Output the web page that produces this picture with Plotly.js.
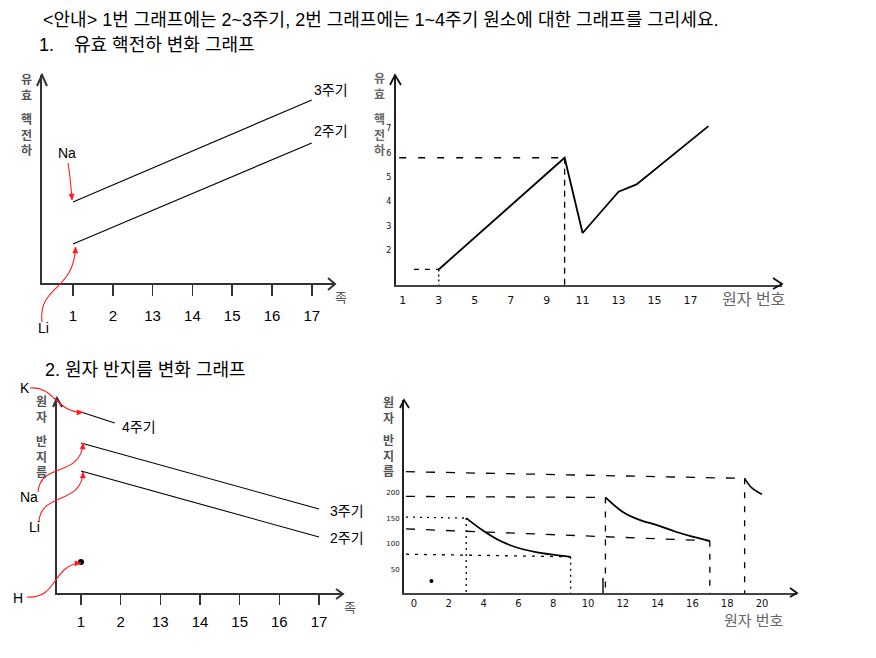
<!DOCTYPE html>
<html><head><meta charset="utf-8">
<script src="https://cdn.plot.ly/plotly-3.0.1.min.js"></script>
<style>html,body{margin:0;padding:0;background:#fff}#chart{width:876px;height:658px}</style>
</head><body><div id="chart"></div><script>
const W = 876, H = 658;

// ---------- Chart 1: 유효 핵전하 (schematic, by group) ----------
const groupLabels = ['1', '2', '13', '14', '15', '16', '17'];
const groupIdx = [0, 1, 2, 3, 4, 5, 6];
const schemX = [0, 6];
const zeffPeriod2 = [1.95, 7.0];
const zeffPeriod3 = [4.05, 9.15];

// ---------- Chart 2: 유효 핵전하 vs 원자 번호 (hand drawn) ----------
const zeffZ = [3, 10, 11, 13, 14, 18];
const zeffVal = [1.2, 5.8, 2.7, 4.4, 4.7, 7.1];
const zeffXTicks = [1, 3, 5, 7, 9, 11, 13, 15, 17];
const zeffYTicks = [2, 3, 4, 5, 6, 7];

// ---------- Chart 3: 원자 반지름 (schematic, by group) ----------
const radX4 = [0, 0.85];
const radPeriod4 = [9.05, 8.5];
const radPeriod3 = [7.5, 4.2];
const radPeriod2 = [6.1, 2.8];
const radHx = [0];
const radH = [1.55];

// ---------- Chart 4: 원자 반지름 vs 원자 번호 (hand drawn) ----------
const r2Z = [3, 4, 5, 6, 7, 8, 9];
const r2 = [150, 125, 105, 92, 84, 79, 75];
const r3Z = [11, 12, 13, 14, 15, 16, 17];
const r3 = [190, 162, 146, 136, 124, 114, 106];
const r4Z = [19, 19.4, 20];
const r4 = [227, 209, 196];
const rHZ = [1];
const rH = [28];
const radXTicks = [0, 2, 4, 6, 8, 10, 12, 14, 16, 18, 20];
const radYTicks = [50, 100, 150, 200];
// guide lines (left value, end point)
const gLeft4 = -0.46;
const guideLeftVals = [240, 192, 152, 129, 80];

// ---------- helpers ----------
const px = x => x / W, py = y => 1 - y / H;
const dom = (a, b) => [a / W, b / W];
const ydom = (bottom, top) => [1 - bottom / H, 1 - top / H];
const P = (x, y) => px(x).toFixed(5) + ',' + py(y).toFixed(5);

const FONT = 'Liberation Sans, Arial, Noto Sans CJK KR, sans-serif';
const axBase = {showgrid: false, zeroline: false, showline: true, linecolor: '#333', linewidth: 2, fixedrange: true};

const traces = [];
function line(xa, ya, x, y, opt) {
  traces.push(Object.assign({type: 'scatter', mode: 'lines', x: x, y: y, xaxis: xa, yaxis: ya,
    hoverinfo: 'skip', line: {color: '#000', width: 1.3}}, opt || {}));
}
// chart 1
line('x', 'y', schemX, zeffPeriod3, {line: {color: '#000', width: 1.1}});
line('x', 'y', schemX, zeffPeriod2, {line: {color: '#000', width: 1.1}});
// chart 2
const y2min = 0.56;
line('x2', 'y2', [0.8, zeffZ[1]], [zeffVal[1], zeffVal[1]], {line: {color: '#000', width: 1.3, dash: '7px,12px'}});
line('x2', 'y2', [zeffZ[1], zeffZ[1]], [zeffVal[1], y2min], {line: {color: '#000', width: 1.3, dash: '6px,5px'}});
line('x2', 'y2', [1.62, zeffZ[0]], [zeffVal[0], zeffVal[0]], {line: {color: '#000', width: 1.3, dash: '5px,6px'}});
line('x2', 'y2', [zeffZ[0], zeffZ[0]], [zeffVal[0], y2min], {line: {color: '#000', width: 1.3, dash: '2px,3px'}});
line('x2', 'y2', zeffZ, zeffVal, {line: {color: '#000', width: 1.8}});
// chart 3
line('x3', 'y3', radX4, radPeriod4, {line: {color: '#000', width: 1.1}});
line('x3', 'y3', schemX, radPeriod3, {line: {color: '#000', width: 1.1}});
line('x3', 'y3', schemX, radPeriod2, {line: {color: '#000', width: 1.1}});
traces.push({type: 'scatter', mode: 'markers', x: radHx, y: radH, xaxis: 'x3', yaxis: 'y3', hoverinfo: 'skip',
  marker: {color: '#000', size: 6}});
// chart 4
const y4min = 4.8;
const dashL = '9px,11px', dotL = '2px,5px';
line('x4', 'y4', [gLeft4, r4Z[0]], [guideLeftVals[0], r4[0]], {line: {color: '#000', width: 1.3, dash: dashL}});
line('x4', 'y4', [gLeft4, r3Z[0]], [guideLeftVals[1], r3[0]], {line: {color: '#000', width: 1.3, dash: dashL}});
line('x4', 'y4', [gLeft4, r2Z[0]], [guideLeftVals[2], r2[0]], {line: {color: '#000', width: 1.3, dash: dotL}});
line('x4', 'y4', [gLeft4, r3Z[6]], [guideLeftVals[3], r3[6]], {line: {color: '#000', width: 1.3, dash: dashL}});
line('x4', 'y4', [gLeft4, r2Z[6]], [guideLeftVals[4], r2[6]], {line: {color: '#000', width: 1.3, dash: '3px,6px'}});
line('x4', 'y4', [r2Z[0], r2Z[0]], [r2[0], y4min], {line: {color: '#000', width: 1.3, dash: '2px,4px'}});
line('x4', 'y4', [r2Z[6], r2Z[6]], [r2[6], y4min], {line: {color: '#000', width: 1.3, dash: '2px,4px'}});
line('x4', 'y4', [r3Z[0], r3Z[0]], [r3[0], y4min], {line: {color: '#000', width: 1.3, dash: '6px,8px'}});
line('x4', 'y4', [r3Z[6], r3Z[6]], [r3[6], y4min], {line: {color: '#000', width: 1.3, dash: '6px,7px'}});
line('x4', 'y4', [r4Z[0], r4Z[0]], [r4[0], y4min], {line: {color: '#000', width: 1.3, dash: '6px,8px'}});
line('x4', 'y4', [10.86, 10.86], [y4min, 34], {line: {color: '#000', width: 1.4}});
line('x4', 'y4', r2Z, r2, {line: {color: '#000', width: 1.8, shape: 'spline', smoothing: 1}});
line('x4', 'y4', r3Z, r3, {line: {color: '#000', width: 1.8, shape: 'spline', smoothing: 1}});
line('x4', 'y4', r4Z, r4, {line: {color: '#000', width: 1.6, shape: 'spline', smoothing: 1}});
traces.push({type: 'scatter', mode: 'markers', x: rHZ, y: rH, xaxis: 'x4', yaxis: 'y4', hoverinfo: 'skip',
  marker: {color: '#000', size: 4}});

// ---------- annotations ----------
const ann = [];
function A(text, x, y, opt) {
  ann.push(Object.assign({text: text, x: px(x), y: py(y), xref: 'paper', yref: 'paper', showarrow: false,
    xanchor: 'center', yanchor: 'middle', font: {family: FONT, size: 14, color: '#000'}}, opt || {}));
}
const headFont = {family: FONT, size: 18, color: '#000'};
A('&lt;안내&gt; 1번 그래프에는 2~3주기, 2번 그래프에는 1~4주기 원소에 대한 그래프를 그리세요.', 41, 20,
  {xanchor: 'left', font: headFont});
A('1.', 37, 45, {xanchor: 'left', font: headFont});
A('유효 핵전하 변화 그래프', 72, 45, {xanchor: 'left', font: headFont});
A('2.', 43, 370, {xanchor: 'left', font: headFont});
A('원자 반지름 변화 그래프', 63, 370, {xanchor: 'left', font: headFont});

// stacked (vertical) axis titles: one text block per word, one character per line
function stack(words, x, ys, color) {
  words.forEach((w, i) => A('<b>' + w.split('').join('<br>') + '</b>', x, ys[i],
    {font: {family: FONT, size: 12, color: color}}));
}
stack(['유효', '핵전하'], 26, [88, 135], '#555');
stack(['유효', '핵전하'], 379, [87, 135], '#666');
stack(['원자', '반지름'], 41, [410, 457], '#555');
stack(['원자', '반지름'], 388, [410.5, 456.5], '#555');

// chart labels
A('3주기', 331, 90); A('2주기', 331, 131);
A('Na', 67, 153); A('Li', 43, 328);
A('족', 341, 297, {font: {family: FONT, size: 13, color: '#555'}});
A('4주기', 139, 427); A('3주기', 347, 511); A('2주기', 347, 538);
A('K', 25, 388); A('Na', 29, 497); A('Li', 34, 527); A('H', 18, 598);
A('족', 350, 607, {font: {family: FONT, size: 13, color: '#555'}});
A('원자 번호', 753, 299, {font: {family: FONT, size: 16, color: '#666'}});
A('원자 번호', 754, 620, {font: {family: FONT, size: 15, color: '#666'}});

// ---------- shapes: axis arrowheads and red pointer arrows ----------
const shapes = [];
function chevron(tip, a1, a2, color, w) {
  shapes.push({type: 'path', xref: 'paper', yref: 'paper',
    path: 'M' + P(a1[0], a1[1]) + 'L' + P(tip[0], tip[1]) + 'L' + P(a2[0], a2[1]),
    line: {color: color, width: w}});
}
chevron([42, 75], [37, 86], [47, 86], '#333', 2);
chevron([335, 284], [328, 278], [328, 290], '#333', 2);
chevron([395, 75], [390, 85], [401, 85], '#111', 1.8);
chevron([782, 284], [773, 278], [773, 289], '#111', 1.8);
chevron([57, 398], [53, 407], [62, 407], '#333', 2);
chevron([343, 594], [336, 589], [336, 599], '#333', 2);
chevron([404, 400], [400, 408], [409, 408], '#111', 1.8);
chevron([797, 593], [790, 588], [790, 597], '#111', 1.8);

function redArrow(s, c1, c2, tip) {
  shapes.push({type: 'path', xref: 'paper', yref: 'paper',
    path: 'M' + P(s[0], s[1]) + 'C' + P(c1[0], c1[1]) + ' ' + P(c2[0], c2[1]) + ' ' + P(tip[0], tip[1]),
    line: {color: '#ff1a1a', width: 1.1}});
  let dx = tip[0] - c2[0], dy = tip[1] - c2[1];
  const L = Math.hypot(dx, dy); dx /= L; dy /= L;
  const bx = tip[0] - 6 * dx, by = tip[1] - 6 * dy, nx = -dy, ny = dx;
  shapes.push({type: 'path', xref: 'paper', yref: 'paper',
    path: 'M' + P(tip[0], tip[1]) + 'L' + P(bx + 2.6 * nx, by + 2.6 * ny) + 'L' + P(bx - 2.6 * nx, by - 2.6 * ny) + 'Z',
    fillcolor: '#ff1a1a', line: {color: '#ff1a1a', width: 0.5}});
}
redArrow([68, 163], [70, 175], [71, 186], [72, 200]);
redArrow([42, 322], [38, 285], [74, 292], [75.5, 247]);
redArrow([30, 388], [55, 386], [55, 412], [83, 412.5]);
redArrow([38, 492], [40, 462], [81, 478], [83, 443]);
redArrow([39, 522], [40, 492], [82, 505], [83, 472]);
redArrow([27, 597], [58, 599], [52, 565], [81, 563]);

const handFont = {family: 'DejaVu Sans, sans-serif', size: 11, color: '#111'};
const layout = {
  width: W, height: H, margin: {l: 0, r: 0, t: 0, b: 0},
  paper_bgcolor: '#fff', plot_bgcolor: 'rgba(0,0,0,0)', showlegend: false,
  font: {family: FONT, color: '#000'},
  xaxis: Object.assign({}, axBase, {domain: dom(42, 335), range: [-0.779, 6.583], anchor: 'y',
    tickmode: 'array', tickvals: groupIdx, ticktext: groupLabels, ticks: 'outside', ticklen: 11,
    tickwidth: 1.5, tickcolor: '#333', tickfont: {family: FONT, size: 15, color: '#000'}, ticklabelstandoff: 7}),
  yaxis: Object.assign({}, axBase, {domain: ydom(283, 75), range: [0, 10.4], anchor: 'x', showticklabels: false, ticks: ''}),
  xaxis2: Object.assign({}, axBase, {domain: dom(396, 782), range: [0.623, 22.09], anchor: 'y2', linecolor: '#444',
    tickmode: 'array', tickvals: zeffXTicks, ticks: '', tickfont: handFont, ticklabelstandoff: 4}),
  yaxis2: Object.assign({}, axBase, {domain: ydom(285, 75), range: [y2min, 9.206], anchor: 'x2', linecolor: '#222',
    tickmode: 'array', tickvals: zeffYTicks, ticks: '', tickfont: {family: 'DejaVu Sans, sans-serif', size: 8, color: '#111'}, ticklabelstandoff: 1}),
  xaxis3: Object.assign({}, axBase, {domain: dom(57, 343), range: [-0.605, 6.605], anchor: 'y3',
    tickmode: 'array', tickvals: groupIdx, ticktext: groupLabels, ticks: 'outside', ticklen: 10,
    tickwidth: 1.5, tickcolor: '#333', tickfont: {family: FONT, size: 15, color: '#000'}, ticklabelstandoff: 4}),
  yaxis3: Object.assign({}, axBase, {domain: ydom(593, 398), range: [0, 9.75], anchor: 'x3', showticklabels: false, ticks: ''}),
  xaxis4: Object.assign({}, axBase, {domain: dom(404, 797), range: [-0.575, 22.01], anchor: 'y4', linecolor: '#444',
    tickmode: 'array', tickvals: radXTicks, ticks: '', tickfont: {family: 'DejaVu Sans, sans-serif', size: 10, color: '#111'}, ticklabelstandoff: 0}),
  yaxis4: Object.assign({}, axBase, {domain: ydom(593, 400), range: [y4min, 378.9], anchor: 'x4', linecolor: '#222',
    tickmode: 'array', tickvals: radYTicks, ticks: '', tickfont: {family: 'DejaVu Sans, sans-serif', size: 7, color: '#111'}, ticklabelstandoff: 1}),
  annotations: ann,
  shapes: shapes
};
Plotly.newPlot('chart', traces, layout, {staticPlot: true, displayModeBar: false});
</script></body></html>
